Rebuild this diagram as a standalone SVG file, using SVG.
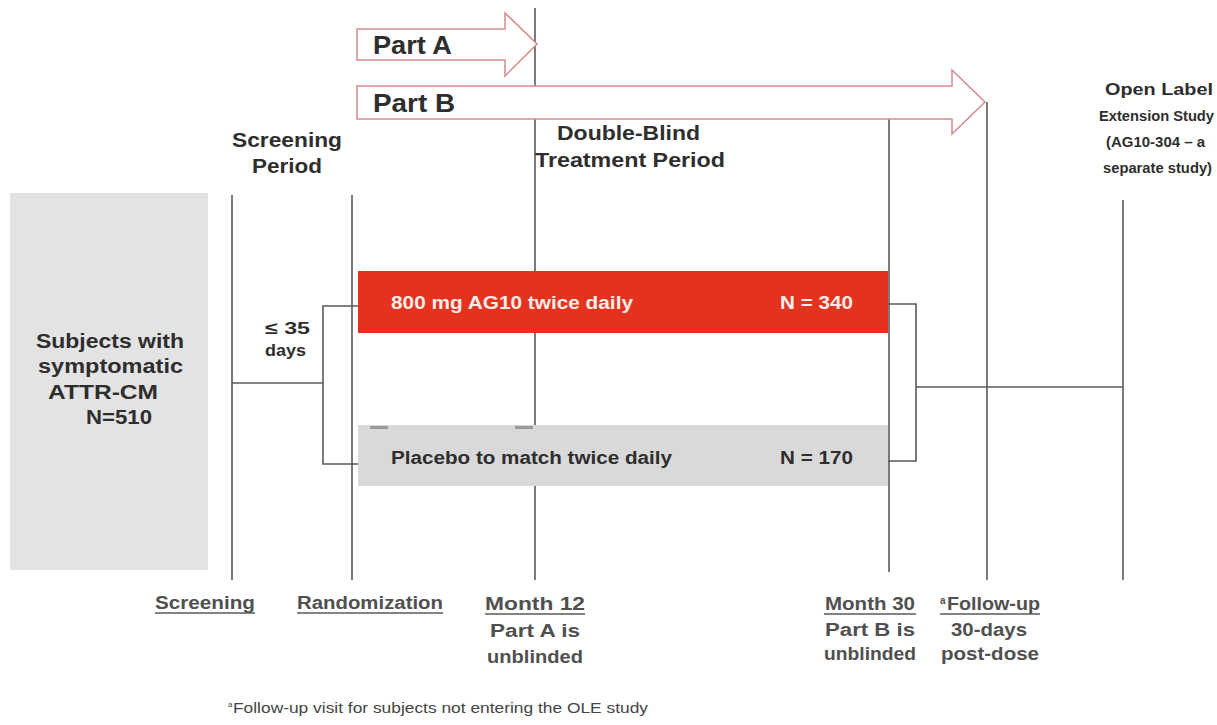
<svg xmlns="http://www.w3.org/2000/svg" width="1217" height="725" viewBox="0 0 1217 725">
<style>
.t{font-family:"Liberation Sans",Arial,sans-serif;font-weight:bold;fill:#2e2e2e}
.s{font-family:"Liberation Sans",Arial,sans-serif;font-weight:bold;fill:#505050;font-size:18px}
.ln{stroke:#5a5a5a;stroke-width:1.6;fill:none}
.ul{stroke:#5a5a5a;stroke-width:1.4}
.arr{fill:#ffffff;stroke:#d68a8e;stroke-width:1.5}
</style>
<rect width="1217" height="725" fill="#ffffff"/>
<g id="connectors">
<line class="ln" x1="232" y1="195" x2="232" y2="580"/>
<line class="ln" x1="352" y1="195" x2="352" y2="580"/>
<line class="ln" x1="535" y1="8" x2="535" y2="580"/>
<line class="ln" x1="889" y1="119" x2="889" y2="572"/>
<line class="ln" x1="987" y1="102" x2="987" y2="580"/>
<line class="ln" x1="1123" y1="200" x2="1123" y2="580"/>
<polyline class="ln" points="232,383 323,383"/>
<polyline class="ln" points="359,306 323,306 323,464 359,464"/>
<polyline class="ln" points="887,304 916,304 916,461 887,461"/>
<line class="ln" x1="916" y1="387" x2="1123" y2="387"/>
</g>
<g id="partA">
<polygon class="arr" points="357,29 505,29 505,13 537,44 505,76 505,60 357,60"/>
<text class="t" x="373" y="54" font-size="26" textLength="79" lengthAdjust="spacingAndGlyphs">Part A</text>
</g>
<g id="partB">
<polygon class="arr" points="357,86 952,86 952,70 985,102 952,134 952,119 357,119"/>
<text class="t" x="373" y="112" font-size="26" textLength="82" lengthAdjust="spacingAndGlyphs">Part B</text>
</g>
<g id="screening-period">
<text class="t" font-size="21" x="232" y="147" textLength="110" lengthAdjust="spacingAndGlyphs">Screening</text>
<text class="t" font-size="21" x="252" y="173" textLength="70" lengthAdjust="spacingAndGlyphs">Period</text>
</g>
<g id="double-blind">
<text class="t" font-size="20" x="557" y="140" textLength="143" lengthAdjust="spacingAndGlyphs">Double-Blind</text>
<text class="t" font-size="20" x="535" y="167" textLength="190" lengthAdjust="spacingAndGlyphs">Treatment Period</text>
</g>
<g id="ole">
<text class="t" font-size="17" x="1105" y="95" textLength="108" lengthAdjust="spacingAndGlyphs">Open Label</text>
<text class="t" font-size="14.5" x="1099" y="121" textLength="115" lengthAdjust="spacingAndGlyphs">Extension Study</text>
<text class="t" font-size="15.5" x="1106" y="147" textLength="99" lengthAdjust="spacingAndGlyphs">(AG10-304  – a</text>
<text class="t" font-size="15" x="1103" y="173" textLength="109" lengthAdjust="spacingAndGlyphs">separate study)</text>
</g>
<g id="subjects">
<rect x="10" y="193" width="198" height="377" fill="#e3e3e3"/>
<text class="t" font-size="20" x="36" y="348" textLength="148" lengthAdjust="spacingAndGlyphs">Subjects with</text>
<text class="t" font-size="20" x="38" y="373" textLength="145" lengthAdjust="spacingAndGlyphs">symptomatic</text>
<text class="t" font-size="20" x="48" y="399" textLength="110" lengthAdjust="spacingAndGlyphs">ATTR-CM</text>
<text class="t" font-size="20" x="86" y="424" textLength="66" lengthAdjust="spacingAndGlyphs">N=510</text>
</g>
<g id="window">
<text class="t" font-size="17" x="265" y="334" textLength="45" lengthAdjust="spacingAndGlyphs">≤ 35</text>
<text class="t" font-size="17" x="265" y="356" textLength="41" lengthAdjust="spacingAndGlyphs">days</text>
</g>
<g id="active-arm">
<rect x="358" y="271" width="530" height="62" fill="#e5321f"/>
<text class="t" font-size="18" x="391" y="309" textLength="242" lengthAdjust="spacingAndGlyphs" style="fill:#fbeee8">800 mg AG10 twice daily</text>
<text class="t" font-size="18" x="780" y="309" textLength="73" lengthAdjust="spacingAndGlyphs" style="fill:#fbeee8">N = 340</text>
</g>
<g id="placebo-arm">
<rect x="358" y="425" width="530" height="61" fill="#d9d9d9"/>
<rect x="370" y="426" width="18" height="3" fill="#9a9a9a"/>
<rect x="515" y="426" width="18" height="3" fill="#9a9a9a"/>
<text class="t" font-size="18" x="391" y="464" textLength="281" lengthAdjust="spacingAndGlyphs">Placebo to match twice daily</text>
<text class="t" font-size="18" x="780" y="464" textLength="73" lengthAdjust="spacingAndGlyphs">N = 170</text>
</g>
<g id="label-screening">
<text class="s" x="155" y="609" textLength="100" lengthAdjust="spacingAndGlyphs">Screening</text>
<line class="ul" x1="155" y1="613" x2="255" y2="613"/>
</g>
<g id="label-randomization">
<text class="s" x="297" y="609" textLength="146" lengthAdjust="spacingAndGlyphs">Randomization</text>
<line class="ul" x1="297" y1="613" x2="443" y2="613"/>
</g>
<g id="label-month12">
<text class="s" x="485" y="610" textLength="100" lengthAdjust="spacingAndGlyphs">Month  12</text>
<line class="ul" x1="485" y1="614" x2="585" y2="614"/>
<text class="s" x="490" y="637" textLength="90" lengthAdjust="spacingAndGlyphs">Part A  is</text>
<text class="s" x="487" y="663" textLength="96" lengthAdjust="spacingAndGlyphs">unblinded</text>
</g>
<g id="label-month30">
<text class="s" x="825" y="610" textLength="90" lengthAdjust="spacingAndGlyphs">Month  30</text>
<line class="ul" x1="824" y1="614" x2="916" y2="614"/>
<text class="s" x="825" y="636" textLength="90" lengthAdjust="spacingAndGlyphs">Part  B is</text>
<text class="s" x="824" y="660" textLength="92" lengthAdjust="spacingAndGlyphs">unblinded</text>
</g>
<g id="label-followup">
<text class="s" x="940" y="604" font-size="10" style="font-size:10px">a</text>
<text class="s" x="947" y="610" textLength="93" lengthAdjust="spacingAndGlyphs">Follow-up</text>
<line class="ul" x1="940" y1="614" x2="1040" y2="614"/>
<text class="s" x="951" y="636" textLength="76" lengthAdjust="spacingAndGlyphs">30-days</text>
<text class="s" x="941" y="660" textLength="98" lengthAdjust="spacingAndGlyphs">post-dose</text>
</g>
<g id="footnote">
<text font-family="Liberation Sans, Arial, sans-serif" font-size="8" fill="#444" x="228" y="707">a</text>
<text font-family="Liberation Sans, Arial, sans-serif" font-size="15" fill="#444" x="233" y="713" textLength="415" lengthAdjust="spacingAndGlyphs">Follow-up visit for subjects not entering the OLE study</text>
</g>
</svg>
